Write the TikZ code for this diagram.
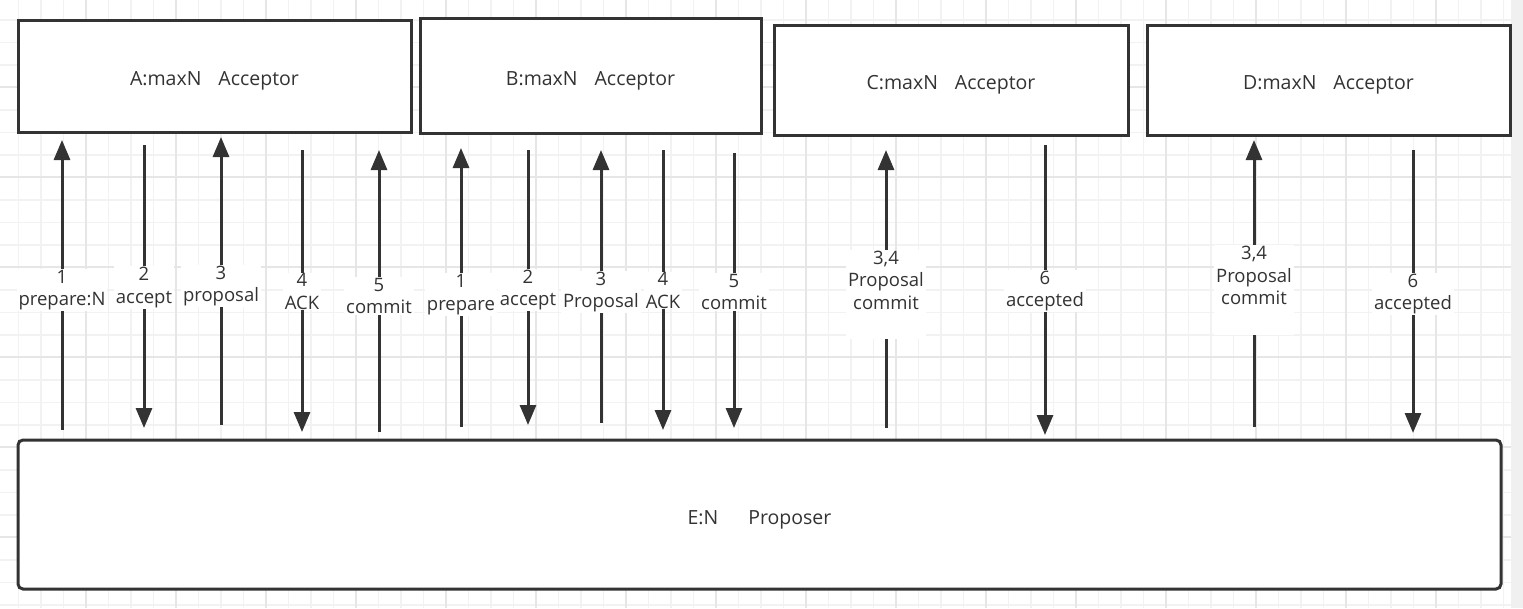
\documentclass[tikz,border=0pt]{standalone}
\usepackage{fontspec}
\setmainfont{Open Sans}
\usetikzlibrary{arrows.meta}
\definecolor{ink}{HTML}{333333}
\definecolor{gridminor}{HTML}{F2F2F2}
\definecolor{gridmajor}{HTML}{E6E6E6}
\definecolor{strip}{HTML}{F0F0F0}
\tikzset{
  box/.style={draw=ink, line width=3pt, fill=white, inner sep=0pt},
  boxlbl/.style={text=ink, inner sep=0pt, yshift=-5pt,
    font=\fontsize{19.5}{23}\selectfont},
  arr/.style={draw=ink, line width=3pt, -{Triangle[length=20pt,width=16pt]}},
  lbl/.style={fill=white, text=ink, align=center, inner xsep=2pt, inner ysep=1pt,
    font=\fontsize{18.5}{22.5}\selectfont},
  minorline/.style={draw=gridminor, line width=1.2pt},
  majorline/.style={draw=gridmajor, line width=1.4pt}
}
\begin{document}
\begin{tikzpicture}[x=1pt,y=-1pt]
\useasboundingbox (0,0) rectangle (1523,608);
\fill[white] (0,0) rectangle (1523,608);
% grid
\foreach \i in {0,...,68} {
  \pgfmathsetmacro{\gx}{-4+22.5*\i}
  \draw[minorline] (\gx,0) -- (\gx,608);
}
\foreach \i in {0,...,27} {
  \pgfmathsetmacro{\gy}{-2.5+22.5*\i}
  \draw[minorline] (0,\gy) -- (1523,\gy);
}
\foreach \i in {0,...,16} {
  \pgfmathsetmacro{\gx}{-4+90*\i}
  \draw[majorline] (\gx,0) -- (\gx,608);
}
\foreach \i in {0,...,6} {
  \pgfmathsetmacro{\gy}{-3+90*\i}
  \draw[majorline] (0,\gy) -- (1523,\gy);
}
\fill[strip] (1511,0) rectangle (1523,608);
% boxes
\node[box, minimum width=393pt, minimum height=112pt,
  label={[boxlbl]center:A:maxN\hspace{17pt}Acceptor}] (A) at (214.5,76) {};
\node[box, minimum width=341pt, minimum height=115pt,
  label={[boxlbl]center:B:maxN\hspace{17pt}Acceptor}] (B) at (590.5,75.5) {};
\node[box, minimum width=354pt, minimum height=110pt,
  label={[boxlbl]center:C:maxN\hspace{17pt}Acceptor}] (C) at (951,80) {};
\node[box, minimum width=363pt, minimum height=110pt,
  label={[boxlbl]center:D:maxN\hspace{17pt}Acceptor}] (D) at (1328.5,80) {};
\node[box, rounded corners=5pt, minimum width=1483pt, minimum height=149pt,
  label={[boxlbl]center:E:N\hspace{30pt}Proposer}] (E) at (759.5,514.5) {};
% arrows with labels
\foreach \n/\x/\ys/\ye/\t/\yc in {
  a1/62/430/140/{1\\prepare:N}/290,
  a2/144/145/428/{2\\accept}/287.5,
  a3/221/425/137/{3\\proposal}/286,
  a4/302/150/432/{4\\ACK}/291.5,
  a5/379/432/150/{5\\commit}/296,
  b1/461/427/148/{1\\prepare}/294.5,
  b2/528/150/425/{2\\accept}/290,
  b3/601/423/150/{3\\Proposal}/292,
  b4/663/150/430/{4\\ACK}/290.5,
  b5/734/153/428/{5\\commit}/292,
  c1/886/428/150/{3,4\\Proposal\\commit\\\strut}/294.5,
  c2/1045/145/435/{6\\accepted}/291,
  d1/1254/427/140/{3,4\\Proposal\\commit\\\strut}/290,
  d2/1413/150/433/{6\\accepted}/294} {
  \coordinate (\n s) at (\x,\ys);
  \coordinate (\n e) at (\x,\ye);
  \draw[arr] (\n s) -- (\n e);
  \node[lbl] (\n l) at (\x,\yc) {\t};
}
\end{tikzpicture}
\end{document}
